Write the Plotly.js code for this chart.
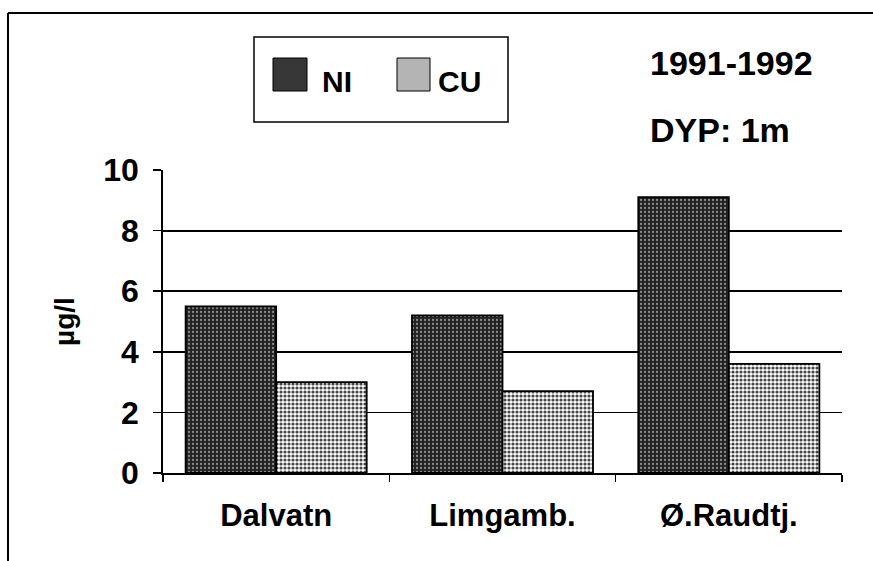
<!DOCTYPE html>
<html>
<head>
<meta charset="utf-8">
<script src="https://cdn.plot.ly/plotly-3.0.1.min.js"></script>
<style>html,body{margin:0;padding:0;background:#fff}#chart{width:873px;height:561px}</style>
</head>
<body>
<div id="chart"></div>
<script>
const categories = ['Dalvatn', 'Limgamb.', 'Ø.Raudtj.'];
const niValues = [5.5, 5.2, 9.1];
const cuValues = [3.0, 2.7, 3.6];
const seriesNames = ['NI', 'CU'];
const yTickValues = [0, 2, 4, 6, 8, 10];
const periodLabel = '1991-1992';
const depthLabel = 'DYP: 1m';
const yTitle = 'µg/l';

const FONT = 'Liberation Sans, Arial, Helvetica, sans-serif';

// plot-area pixel box (for converting overlay positions)
const W = 873, H = 561;
const L = 163, R = 31, T = 170, B = 88;
const pw = W - L - R, ph = H - T - B;
const px = x => (x - L) / pw;
const py = y => (H - B - y) / ph;

const niStyle = {bg: '#222222', fg: '#8a8a8a', solid: 'rgb(55,55,55)'};
const cuStyle = {bg: '#ffffff', fg: '#444444', solid: 'rgb(180,180,180)'};

const traces = [
  {
    type: 'bar', name: seriesNames[0], x: categories, y: niValues,
    marker: {
      color: niStyle.bg,
      line: {color: '#000', width: 1.8},
      pattern: {shape: '.', bgcolor: niStyle.bg, fgcolor: niStyle.fg, size: 4, solidity: 0.25, fillmode: 'replace'}
    },
    showlegend: false, hoverinfo: 'skip'
  },
  {
    type: 'bar', name: seriesNames[1], x: categories, y: cuValues,
    marker: {
      color: cuStyle.bg,
      line: {color: '#000', width: 1.8},
      pattern: {shape: '.', bgcolor: cuStyle.bg, fgcolor: cuStyle.fg, size: 4, solidity: 0.5, fillmode: 'replace'}
    },
    showlegend: false, hoverinfo: 'skip'
  }
];

const shapes = [
  // outer frame (top and left)
  {type: 'line', xref: 'paper', yref: 'paper', x0: px(8), x1: px(873), y0: py(13), y1: py(13), line: {color: '#000', width: 2}},
  {type: 'line', xref: 'paper', yref: 'paper', x0: px(8), x1: px(8), y0: py(13), y1: py(561), line: {color: '#000', width: 2}},
  // legend box
  {type: 'rect', xref: 'paper', yref: 'paper', x0: px(254), x1: px(508), y0: py(122), y1: py(37), line: {color: '#000', width: 1.5}, fillcolor: 'rgba(0,0,0,0)'},
  // legend swatches
  {type: 'rect', xref: 'paper', yref: 'paper', x0: px(273), x1: px(307), y0: py(91), y1: py(58), line: {color: '#000', width: 1}, fillcolor: niStyle.solid},
  {type: 'rect', xref: 'paper', yref: 'paper', x0: px(397), x1: px(430), y0: py(91), y1: py(58), line: {color: '#000', width: 1}, fillcolor: cuStyle.solid}
];

const annFont = {family: FONT, size: 30, color: '#000', weight: 'bold'};
const annotations = [
  {xref: 'paper', yref: 'paper', x: px(320), y: py(81), xanchor: 'left', yanchor: 'middle', text: seriesNames[0], showarrow: false, font: annFont},
  {xref: 'paper', yref: 'paper', x: px(436), y: py(81), xanchor: 'left', yanchor: 'middle', text: seriesNames[1], showarrow: false, font: annFont},
  {xref: 'paper', yref: 'paper', x: px(648), y: py(63), xanchor: 'left', yanchor: 'middle', text: periodLabel, showarrow: false, font: {family: FONT, size: 34, color: '#000', weight: 'bold'}},
  {xref: 'paper', yref: 'paper', x: px(648), y: py(130), xanchor: 'left', yanchor: 'middle', text: depthLabel, showarrow: false, font: {family: FONT, size: 34, color: '#000', weight: 'bold'}}
];

const layout = {
  width: W, height: H,
  margin: {l: L, r: R, t: T, b: B, pad: 0},
  paper_bgcolor: '#fff', plot_bgcolor: '#fff',
  barmode: 'group', bargap: 0.2, bargroupgap: 0,
  showlegend: false,
  font: {family: FONT, color: '#000'},
  xaxis: {
    type: 'category',
    showgrid: false, zeroline: false,
    showline: true, linecolor: '#000', linewidth: 1.8,
    ticks: 'outside', tickson: 'boundaries', ticklen: 7, tickwidth: 1.5, tickcolor: '#000',
    ticklabelstandoff: 14,
    tickfont: {family: FONT, size: 31, color: '#000', weight: 'bold'}
  },
  yaxis: {
    range: [0, 10],
    tickvals: yTickValues, ticktext: yTickValues.map(String),
    showgrid: true, gridcolor: '#000', gridwidth: 1.8,
    zeroline: false,
    showline: true, linecolor: '#000', linewidth: 1.8,
    ticks: 'outside', ticklen: 8, tickwidth: 1.5, tickcolor: '#000',
    ticklabelstandoff: 8,
    tickfont: {family: FONT, size: 32, color: '#000', weight: 'bold'},
    title: {text: yTitle, standoff: 20, font: {family: FONT, size: 28, color: '#000', weight: 'bold'}}
  },
  shapes: shapes,
  annotations: annotations
};

Plotly.newPlot('chart', traces, layout, {staticPlot: true, displayModeBar: false});
</script>
</body>
</html>
